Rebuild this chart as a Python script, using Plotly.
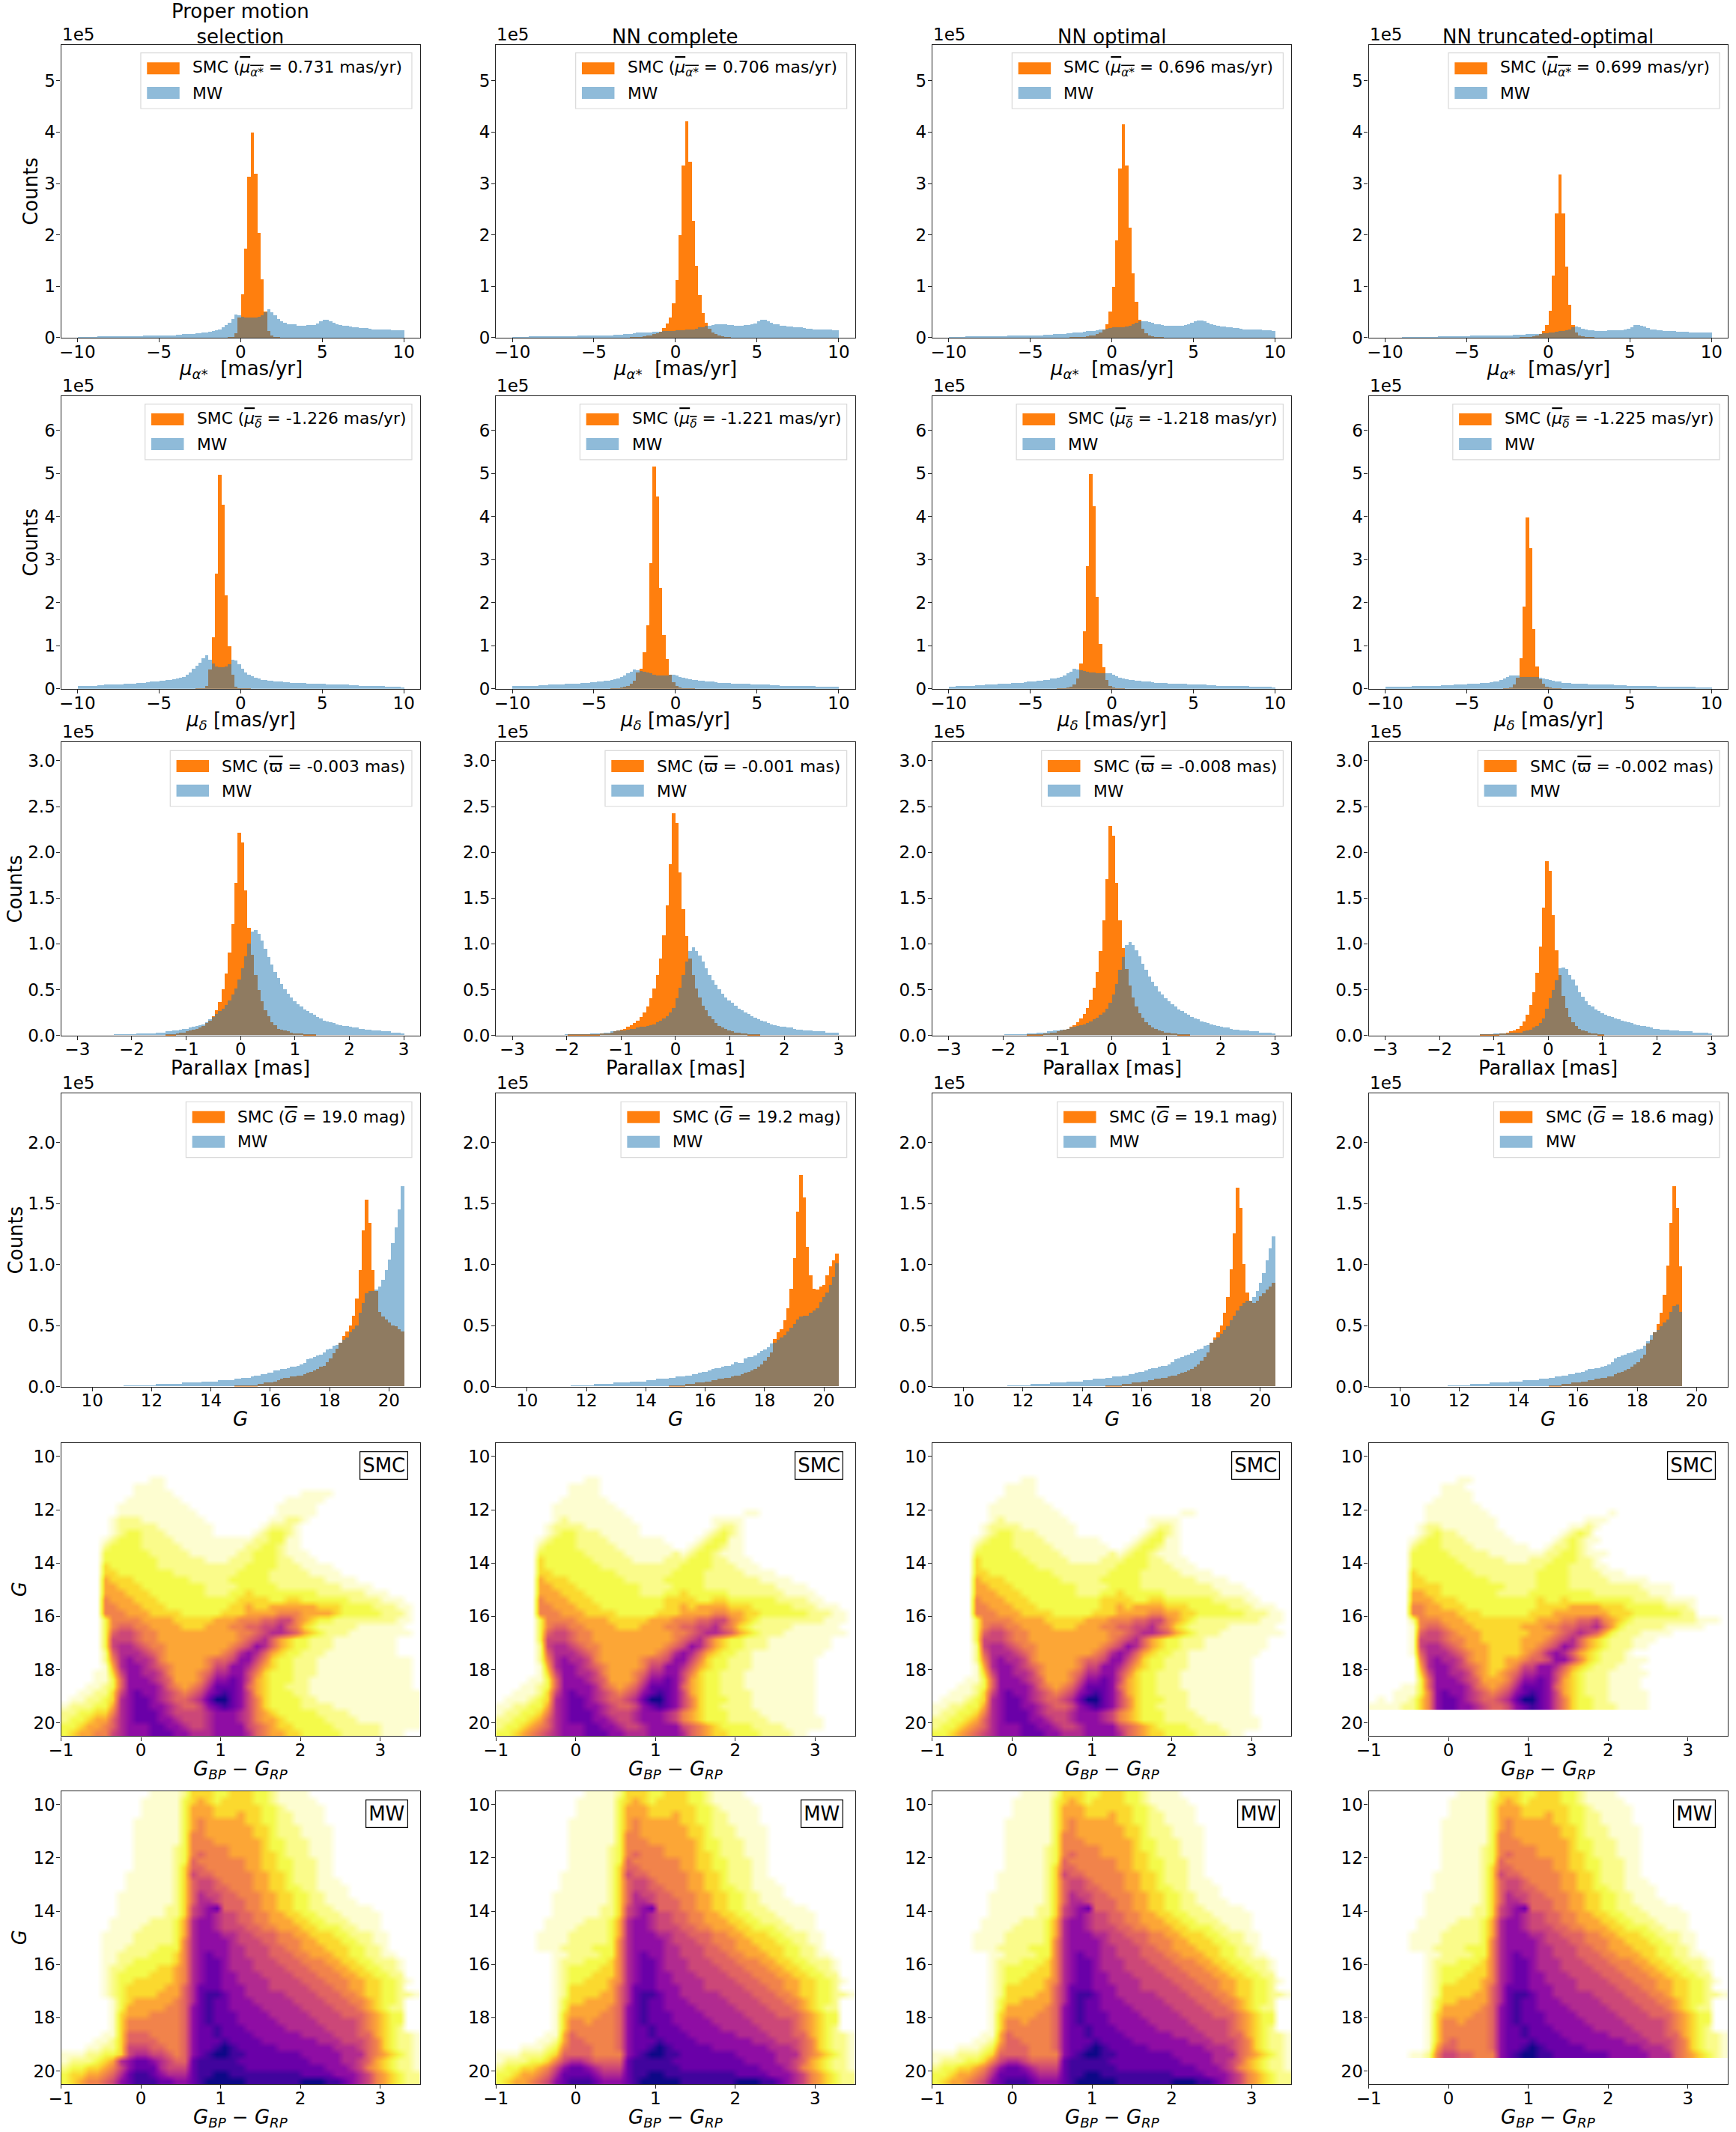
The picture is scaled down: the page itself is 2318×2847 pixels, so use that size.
import numpy as np
import plotly.graph_objects as go

# histogram counts in units of 1000, 100 bins per panel
RA_MW_PM = [2,2,2,2,2,2,3,3,3,3, 3,3,3,3,3,3,3,3,3,3, 4,4,4,4,4,4,5,5,5,5, 6,6,7,7,8,8,9,9,10,10,
            12,13,15,16,20,25,30,37,45,44, 41,40,39,39,40,41,44,50,55,50, 44,37,32,30,27,26,26,24,23,23,
            25,25,25,28,32,35,35,33,30,26, 25,23,23,22,21,20,19,19,19,18, 17,17,17,16,16,16,15,15,15,15]
RA_SMC_PM = [0]*40 + [0,0,0,0,0,0,1,2,9,40, 85,174,314,400,320,204,114,52,14,4, 2,1] + [0]*38
RA_MW_NN = [2,2,2,2,2,3,3,3,3,3, 3,3,3,3,3,3,3,3,3,3, 4,4,4,4,4,4,4,5,5,5, 5,6,6,6,7,7,8,9,10,10,
            11,11,11,12,12,12,13,13,14,14, 15,15,15,16,16,17,18,20,21,23, 23,25,27,27,27,26,25,25,24,24,
            24,25,25,26,28,33,35,35,33,30, 27,26,24,24,22,22,21,20,20,19, 18,18,17,17,17,16,16,16,15,15]
RA_SMC_NN = [0]*30 + [0,0,0,0,0,0,1,1,2,2, 3,4,5,7,9,12,19,28,40,67, 112,200,335,421,343,228,140,83,49,29,
             18,11,7,4,3,2,1] + [0]*33
RA_MW_OP = [2,2,2,2,2,3,3,3,3,3, 3,3,3,3,3,3,3,3,4,4, 4,4,4,4,5,5,5,5,5,6, 6,6,7,7,8,8,9,9,10,11,
            11,12,13,13,14,15,16,17,18,19, 20,20,20,21,22,24,26,29,32,33, 33,31,29,27,26,25,24,24,23,23,
            24,24,25,26,29,32,34,34,32,29, 26,25,23,22,22,21,20,19,19,18, 17,17,17,16,16,16,15,15,15,14]
RA_SMC_OP = [0]*30 + [0,0,0,0,0,0,0,1,1,1, 2,2,3,4,5,7,10,16,26,52, 100,190,330,415,335,215,125,70,35,18,
             9,5,3,2,1,1] + [0]*34
RA_MW_TR = [1,1,1,1,1,2,2,2,2,2, 2,2,2,2,2,2,3,3,3,3, 3,3,3,3,3,3,4,4,4,4, 4,4,4,4,5,5,5,5,5,6,
            6,6,6,7,7,8,8,8,9,9, 10,11,12,13,14,15,17,20,22,20, 18,16,15,15,14,14,14,14,15,15,
            15,15,15,16,18,21,25,25,24,22, 19,17,16,15,15,14,14,13,13,12, 12,12,12,11,11,11,11,11,11,11]
RA_SMC_TR = [0]*40 + [0,1,1,1,2,3,5,8,13,25, 53,121,242,318,242,138,65,25,10,5, 3,2,1,1] + [0]*36

DEC_MW_PM = [7,7,7,7,8,8,9,9,10,10, 10,11,11,11,12,12,13,13,14,14, 15,16,17,18,18,19,20,21,22,23,
             24,26,28,33,38,47,55,62,71,78, 69,60,53,51,51,52,58,68,66,57, 47,39,33,30,27,24,22,21,20,19,
             18,18,17,16,16,15,15,14,14,14, 13,13,13,13,12,12,11,11,11,11, 10,10,10,9,9,9,8,8,8,8, 7,7,7,7,6,6,6,6,6,3]
DEC_SMC_PM = [0]*30 + [0,0,0,0,0,0,1,1,2,8, 46,120,268,497,428,217,100,33,5,2, 2,1,1] + [0]*47
DEC_MW_NN = [7,7,7,7,8,8,8,8,9,9, 9,10,10,10,11,11,12,12,13,13, 13,14,14,15,16,16,17,18,19,20,
             21,23,25,28,31,36,41,45,44,42, 40,38,36,33,32,31,31,32,33,33, 31,28,26,25,23,22,21,20,19,18,
             17,17,16,15,15,14,14,13,13,13, 12,12,12,11,11,11,10,10,10,9, 9,9,8,8,8,8,7,7,7,7, 7,7,7,6,6,6,6,6,6,5]
DEC_SMC_NN = [0]*30 + [1,1,2,3,5,8,12,20,38,48, 85,148,293,517,447,235,125,70,33,16, 8,4,2,1,1,1] + [0]*44
DEC_MW_OP = [6,6,7,7,7,8,8,8,9,9, 9,10,10,11,11,12,12,13,13,14, 14,15,15,16,17,18,18,19,20,21,
             22,24,25,27,29,32,36,41,47,46, 44,42,40,39,38,37,37,37,37,36, 34,30,27,25,23,22,21,20,19,18,
             17,17,16,15,15,14,14,13,13,13, 12,12,12,11,11,10,10,10,10,9, 9,9,8,8,8,8,7,7,7,7, 7,7,6,6,6,6,6,6,6,4]
DEC_SMC_OP = [0]*30 + [0,0,0,1,1,2,4,6,10,24, 60,135,285,500,425,215,105,50,22,8, 4,2,1,1] + [0]*46
DEC_MW_TR = [5,5,5,5,5,6,6,6,7,7, 7,7,7,8,8,8,8,9,9,9, 9,10,10,11,11,12,12,13,13,14,
             14,15,16,17,18,21,24,28,31,32, 31,29,28,29,29,28,28,27,25,23, 21,20,18,17,15,14,14,13,13,12,
             12,12,11,11,11,10,10,10,10,10, 9,9,9,9,8,8,8,8,8,7, 7,7,7,6,6,6,6,6,6,5, 5,5,5,5,5,4,4,4,4,4]
DEC_SMC_TR = [0]*30 + [0,0,0,0,0,0,1,2,3,10, 26,72,192,398,327,139,53,23,12,6, 3,2,1,1] + [0]*46

PLX_MW_PM = [0]*10 + [0,1,1,1,1,1,1,1,2,2, 2,2,2,2,3,3,3,4,4,5, 5,6,7,7,8,9,10,11,12,14,
             17,20,23,26,29,33,38,44,51,61, 73,86,100,113,115,111,103,94,85,77, 69,62,56,50,45,41,37,34,31,28,
             26,24,22,20,18,16,15,14,13,12, 11,10,10,9,8,8,7,7,6,6, 5,5,5,4,4,4,3,3,3,2]
PLX_SMC_PM = [0]*20 + [0,0,0,0,0,0,0,1,1,1, 2,3,3,4,5,6,7,8,10,13, 16,21,27,36,50,67,90,121,166,221,
              210,158,117,88,66,49,37,27,21,14, 11,7,6,5,4,3,2,2,2,1, 1,1,1] + [0]*27
PLX_MW_NN = [0]*10 + [0,0,0,0,0,0,1,1,1,1, 1,1,1,1,2,2,2,2,3,3, 4,4,5,5,5,6,7,7,8,9,
             9,10,11,12,14,16,18,21,25,30, 40,52,66,80,92,96,92,87,80,73, 66,60,55,50,45,41,38,35,32,29,
             27,25,23,21,19,17,16,15,13,12, 11,10,9,9,8,8,7,6,6,5, 5,5,4,4,4,4,3,3,3,3]
PLX_SMC_NN = [0]*10 + [0,0,0,0,0,0,0,1,1,1, 1,1,1,1,1,1,1,2,2,2, 3,4,5,6,7,9,11,13,16,20,
              25,31,40,51,66,84,109,142,187,242, 232,178,138,108,84,66,51,41,32,27, 21,17,13,10,8,7,5,4,3,3,
              2,2,1,1,1,1] + [0]*24
PLX_MW_OP = [0]*10 + [0,0,0,0,0,0,0,1,1,1, 1,1,1,1,2,2,2,3,3,3, 4,4,5,5,6,6,7,8,9,10,
             11,12,13,15,17,19,22,25,29,35, 44,56,71,85,98,102,98,93,86,78, 71,64,58,53,48,44,40,37,34,31,
             28,26,24,22,20,18,17,15,14,13, 12,11,10,9,8,8,7,6,6,5, 5,5,4,4,4,3,3,3,3,2]
PLX_SMC_OP = [0]*20 + [0,0,0,0,1,1,1,1,1,2, 2,3,3,4,5,6,7,9,11,14, 18,23,30,39,52,69,92,125,170,228,
              218,166,125,95,72,54,41,31,24,19, 14,11,8,7,5,4,3,3,2,2, 1,1,1,1] + [0]*26
PLX_MW_TR = [0]*20 + [0,0,0,0,0,0,0,0,0,1, 1,1,1,2,2,2,2,2,3,3,
             3,3,4,5,6,8,10,13,18,29, 40,49,60,73,74,72,66,61,54,47, 42,37,33,31,28,26,24,22,21,20,
             18,17,16,15,14,13,12,11,10,10, 9,8,7,7,6,6,6,5,5,5, 4,4,4,4,3,3,3,3,3,2]
PLX_SMC_TR = [0]*20 + [0,0,0,0,0,0,0,0,0,1, 1,1,1,1,1,2,2,3,4,5,
              7,10,15,22,33,47,68,97,139,190, 179,131,93,66,43,30,20,14,10,7, 5,4,3,2,2,1,1] + [0]*33

G_MW_PM = [0]*10 + [0,0,0,0,1,1,1,1,1,1, 1,1,1,1,2,2,2,2,2,2, 2,2,3,3,3,3,3,3,4,4, 4,4,4,5,5,5,5,5,6,6,
           7,7,7,8,9,9,10,10,11,11, 13,13,14,14,15,16,16,17,18,19, 22,23,24,25,26,28,30,31,33,34,
           36,38,40,44,47,50,60,68,76,78, 78,79,82,87,95,104,117,130,145,164]
G_SMC_PM = [0]*40 + [0,0,0,0,0,0,0,0,1,1, 1,1,1,1,1,2,2,3,3,3, 4,5,6,7,7,8,8,9,9,10, 11,12,13,14,16,17,20,23,27,31,
            36,41,45,50,58,72,95,128,153,134, 95,78,61,57,55,52,50,49,47,45]
G_MW_NN = [0]*10 + [0,0,0,0,0,0,0,0,1,1, 1,1,1,1,1,2,2,2,2,2, 2,3,3,3,3,3,4,4,4,4, 4,5,5,5,6,6,6,6,7,7,
           8,8,8,9,9,10,10,11,12,12, 13,14,15,15,16,17,17,18,20,19, 19,23,24,24,25,27,29,30,32,35,
           36,38,40,42,45,48,51,55,57,58, 58,60,62,64,69,73,77,83,90,101]
G_SMC_NN = [0]*40 + [0,0,0,0,0,0,0,0,1,1, 1,1,1,2,2,2,3,3,3,4, 4,5,5,6,6,7,7,8,9,9, 10,11,12,13,14,16,18,21,24,28,
            39,44,47,54,64,80,105,143,173,155, 114,91,80,79,82,83,91,98,103,109]
G_MW_OP = [0]*10 + [0,0,0,0,0,0,0,0,1,1, 1,1,1,1,1,2,2,2,2,2, 2,3,3,3,3,3,4,4,4,4, 4,5,5,5,6,6,6,6,7,7,
           8,8,8,9,9,10,10,11,12,12, 13,14,15,15,16,17,17,18,20,22, 23,24,25,26,27,29,30,31,33,34,
           36,38,40,43,46,49,54,58,62,66, 68,70,70,73,78,85,93,103,113,123]
G_SMC_OP = [0]*40 + [0,0,0,0,0,0,0,0,1,1, 1,1,1,2,2,2,3,3,3,4, 4,5,5,6,6,7,7,8,9,9, 10,11,12,13,14,16,18,21,24,28,
            36,40,44,50,60,73,96,125,163,146, 100,77,70,68,70,74,76,79,82,85]
G_MW_TR = [0]*10 + [0,0,0,0,0,0,0,0,0,1, 1,1,1,1,1,1,2,2,2,2, 2,2,3,3,3,3,3,3,4,4, 4,4,5,5,5,5,5,6,6,6,
           7,7,8,8,9,9,10,10,11,11, 12,13,14,14,15,15,16,17,18,20, 23,24,25,26,27,28,29,30,31,33,
           37,42,44,46,49,52,55,61,66,67, 61] + [0]*9
G_SMC_TR = [0]*50 + [1,1,1,1,2,2,2,3,3,3, 4,4,5,5,6,6,7,7,8,8, 10,11,12,13,14,16,18,20,23,26,
            35,38,44,51,60,75,99,134,164,146, 98] + [0]*9

# colour-magnitude density, one character per cell (0.1 in colour, 0.25 in G), 0=empty .. d=densest
SMC_PM = ["", "", "", "", "",
    "00000000000110",
    "000000000111100000000000000000000",
    "0000000001111100000000000000001111",
    "00000000111111100000000000001111100",
    "0000000111111111000000000001111100",
    "00000001111111111000000000011111",
    "0000001222111111110000000011221",
    "0000001222221111111000000122210",
    "00000012332221111110000012332100",
    "00000123332222111111111122331100",
    "00000233332222211111111223321100",
    "00000333333222221111112233321110000",
    "00000333333322222211122233322111000",
    "00000433333322222222222333322211110000",
    "00000443333333222222223333222221111000",
    "00000544433333332222233333222222211110000",
    "00000554443333333322223333322222222111100000",
    "00000555444333333322233433333333222222111000",
    "00000655544433333333334444334433333322221110",
    "00000665554443333333344544555555444333322211",
    "00000666555444433333444555566655554333332221",
    "00000366665555444445556667788654332222222211",
    "0000036776655554445556677889764322222111111",
    "00000378876655555555556678998754322211111111",
    "000003888766555555555567897543322211111111",
    "000003899876655555555678a97543322211111111",
    "00000279998765555555679a975433222111111111",
    "00000269a9986555556778aa86433222111111111111",
    "00000159aa98765555688aa975433222111111111111",
    "00001148aa99865556799aa864333222111111111111",
    "00001137aaa98755568aaba854333221111111111111",
    "00011237aaaa9765679bbba754332221111111111111",
    "00112248abaa987678abcba8543332211111111111111",
    "01122349abba987789bddba8643333221111111111111",
    "12223359abbaa98778abcba86433332222111111111111",
    "22334469abbba988889aaa98654333332222111111111",
    "23345579abbbaa98889aaa986554333332222111111111",
    "33455679aaabbaa9889aaaa87654433333222222111111",
    "34556689aaabbbaa999aaaa97655443333322222111"]
SMC_NN = ["", "", "", "", "",
    "00000000000110",
    "00000000011110",
    "000000000111100",
    "0000000011111100",
    "00000001111111100",
    "000000011111111100000000000000011",
    "0000000121111111100000000001111",
    "000000122221111111000000000122100",
    "0000001233222111110000000012321",
    "00000123332222111111100001233110",
    "0000023333222221111111001233211",
    "00000333333222221111112123321110",
    "00000433333322222111122233322111",
    "00000433333332222222222333322211100",
    "00000443333333322222223333222221111",
    "000005444333333322222333332222222111100",
    "0000055444333333332222333322222222211110",
    "0000055544433333332223343333322222221111",
    "00000655544433333333344443344333333222211",
    "0000066555444333333334454555544433333222111",
    "00000666555444433333444555566554433333322211",
    "00000366665555444445556667788654322222222111",
    "0000036776655554445556677889764322222111111",
    "00000378876655555555556678998754322211111111",
    "000003888766555555555567897543322211111111",
    "000002899876655555555678a97543322211111111",
    "00000279998765555555679a97543322111111111",
    "00000269a9986555556778aa8643322211111111",
    "00000159aa98765555688aa97543322211111111",
    "00000148aa99865556799aa86433222111111111",
    "00001137aaa98755568aaba85433222111111111",
    "00011237aaaa9765679bbba75433222111111111",
    "00111248abaa987678abcba85433222211111111",
    "01112349abba987789bddba86433322211111111",
    "11223359abbaa98778abcba86433222211111111",
    "12233469abbba98889aaa9865433322221111111",
    "22334579abbbaa9889aaa98654333222221111111",
    "23345679aaabbaa9889aaaa876543333222211111",
    "33456789aaabbbaa999aaaa9765443333222211"]
SMC_TR = ["", "", "", "", "",
    "000000000001100",
    "00000000011100",
    "00000000011110",
    "0000000011111",
    "000000011111110",
    "0000000111111110000000000000001",
    "0000000111111111000000000001110",
    "000000122111111100000000011210",
    "0000001232211111100000001232",
    "00000123322211111100000123211",
    "0000023332222111111100122321",
    "000003333322222111111122332111",
    "00000333333222222111222333221",
    "0000033333332222222222333222110",
    "00000433333332222222233332222111",
    "00000443333333322222233332222211111",
    "00000444433333333222233332222222221111",
    "000005544333333322223333333322222221110",
    "00000555444333333333343343333333322221111",
    "00000665544433333333344445555444333332221",
    "00000665555444333333444555555544433333322",
    "00000266655544444444455566778654322222222111",
    "000001677655544444455566778897532222211111",
    "00000178876555444444555678987532221111",
    "000001888766554444455567897543222111",
    "000001899876555444455678a9754322211",
    "00000179998765544445679a975432221",
    "00000069a99865544556778aa8643222111",
    "00000059aa98765445688aa975432221110",
    "00000048aa99865456799aa864322211111",
    "00000037aaa98755568aaba854322211110",
    "00001137aaaa9765679bbba754322211110",
    "00011136abaa987678abcba854322211111",
    "01011246abba987789bddba864332211111",
    "11112246abbaa98778abcba864332221111"]
# first 16 cells and remaining cells of each MW row
MW_PM_LEFT = [
    "0000000000011112", "0000000000111113", "0000000000111113", "0000000000111113", "0000000001111113",
    "0000000001111113", "0000000001111113", "0000000001111113", "0000000001111123", "0000000001111123",
    "0000000001111123", "0000000001111124", "0000000011111124", "0000000011111124", "0000000011111124",
    "0000000111111124", "0000000111111124", "0000000111111224", "0000000111111224", "0000001111122235",
    "0000001111222235", "0000011112222235", "0000011112222236", "0000011122223336", "0000011222233346",
    "0000011223333346", "0000012233334456", "0000012333344456", "0000012334444456", "0000012344444557",
    "0000012344445557", "0000001345555567", "0000001355555667", "0000001455566667", "0000001466666667",
    "0000001466666667", "0000011477766667", "0000112477776667", "0001122488877667", "1112233489988767",
    "12223459abba9877", "23344568abbb9888", "34455679bccba999", "3456678abcccbbaa"]
MW_RIGHT = [
    "444334443321111",
    "4543444433211111",
    "555444444332111110",
    "555444544332211110",
    "565555544332211110",
    "565555554432221111",
    "665555554432221111",
    "666555555433222111",
    "666665555433222111",
    "676665555443222111",
    "766666655443322211",
    "776666655443322211",
    "877666665544322211",
    "7887666655443222111",
    "78877666554433221111",
    "79887766655443322111",
    "799877766554433221111",
    "89ab7776655443322211111",
    "89a9887766554433222111110",
    "9aa988776655544332221111",
    "9aa9888776655544333221110",
    "9aaa998877766554443322211",
    "9aaaa98887766655444332211",
    "9aaaa99888776655544433221",
    "9abaa998887776655544332211",
    "9abba9998887776665544332221",
    "9abba999888877766655443322 1",
    "9abbaa999888877766655443322",
    "9abbaa9999888877766655443321",
    "9bbbaaa99988888777665544332",
    "9bccbaa9999988887776654433221",
    "9bcbbaaa9999988887776654332",
    "abcbbaaaa999998888777654322",
    "abcbbbaaaa99999888877765433",
    "abcbbbaaaaa9999988888765433",
    "abbcbbbaaaaa999998888765432",
    "abbcbbbbaaaaaa999988877543221",
    "abbbcbbbbaaaaaaa9998887643221",
    "abbcdcbbbbbaaaaaaa99987643221",
    "abcddccbbbbbbbaaaaa9997654321",
    "bcccccbbbbbbbbbaaaa9987543221",
    "bccccccbbbbbbbbbbaaa986543221",
    "bccddcccccccccbbbbaaa98654322",
    "bcdddddcccccccdddccba98654322"]
# lower left part of the MW panels differs between the selections, the rest of each row is shared
MW_NN_LEFT = ["0000000112222336", "0000000122233346", "0000000123333446", "0000000123334446",
              "0000000123344456", "0000000124444457", "0000000124444557", "0000000134455557",
              "0000000135555567", "0000000145555667", "0000000146656667", "0000000146666667",
              "0000001157666667", "0000011257766667", "0001112367776667", "1112223477776666",
              "1222334689987777", "23344568abba9888", "33455679bbbba999", "3455678abcccbaaa"]
MW_TR_LEFT = ["0000000146666667", "0000000146766667", "0000000157766667", "0000011268877666"]

COLUMN_TITLES = ["Proper motion<br>selection", "NN complete", "NN optimal", "NN truncated-optimal"]
RA_MEANS = ["0.731", "0.706", "0.696", "0.699"]
DEC_MEANS = ["-1.226", "-1.221", "-1.218", "-1.225"]
PLX_MEANS = ["-0.003", "-0.001", "-0.008", "-0.002"]
G_MEANS = ["19.0", "19.2", "19.1", "18.6"]

LEVELS = "0123456789abcd"
LEVEL_COLORS = ["#ffffff", "#fdfdd0", "#fafb8a", "#f4fa4a", "#fbd92e", "#fca636", "#f1834b",
                "#e16462", "#cc4778", "#b12a90", "#8f0da4", "#6a00a8", "#41049d", "#0d0887"]
ORANGE = "#ff7f0e"
BLUE = "rgba(31,119,180,0.5)"
FONT = "DejaVu Sans"
TICK = 23
LEG = 21.8
LABEL = 26

W, H = 2318, 2847
LEFTS = [65, 650, 1237, 1824]
TOPS = [60, 531, 996, 1467, 1936, 2403]
AW, AH = 483, 393

RA_TXT = "<i>μ</i><sub><i>α*</i></sub>"
DEC_TXT = "<i>μ</i><sub><i>δ</i></sub>"
over = lambda s: f'<span style="text-decoration:overline">{s}</span>'

hist_rows = [
    dict(smc=[RA_SMC_PM, RA_SMC_NN, RA_SMC_OP, RA_SMC_TR], mw=[RA_MW_PM, RA_MW_NN, RA_MW_OP, RA_MW_TR],
         lo=-10, hi=10, xr=[-11, 11], xt=[-10, -5, 0, 5, 10], top=5.7, yt=[0, 1, 2, 3, 4, 5],
         yl=["0", "1", "2", "3", "4", "5"], title=RA_TXT + "  [mas/yr]", sym=RA_TXT, means=RA_MEANS,
         unit="mas/yr", box=.222, ylab=-40),
    dict(smc=[DEC_SMC_PM, DEC_SMC_NN, DEC_SMC_OP, DEC_SMC_TR], mw=[DEC_MW_PM, DEC_MW_NN, DEC_MW_OP, DEC_MW_TR],
         lo=-10, hi=10, xr=[-11, 11], xt=[-10, -5, 0, 5, 10], top=6.8, yt=[0, 1, 2, 3, 4, 5, 6],
         yl=["0", "1", "2", "3", "4", "5", "6"], title=DEC_TXT + " [mas/yr]", sym=DEC_TXT, means=DEC_MEANS,
         unit="mas/yr", box=.234, ylab=-40),
    dict(smc=[PLX_SMC_PM, PLX_SMC_NN, PLX_SMC_OP, PLX_SMC_TR], mw=[PLX_MW_PM, PLX_MW_NN, PLX_MW_OP, PLX_MW_TR],
         lo=-3, hi=3, xr=[-3.3, 3.3], xt=[-3, -2, -1, 0, 1, 2, 3], top=3.2, yt=[0, .5, 1, 1.5, 2, 2.5, 3],
         yl=["0.0", "0.5", "1.0", "1.5", "2.0", "2.5", "3.0"], title="Parallax [mas]", sym="ϖ", means=PLX_MEANS,
         unit="mas", box=.304, ylab=-61),
    dict(smc=[G_SMC_PM, G_SMC_NN, G_SMC_OP, G_SMC_TR], mw=[G_MW_PM, G_MW_NN, G_MW_OP, G_MW_TR],
         lo=9.5, hi=20.5, xr=[8.95, 21.05], xt=[10, 12, 14, 16, 18, 20], top=2.4, yt=[0, .5, 1, 1.5, 2],
         yl=["0.0", "0.5", "1.0", "1.5", "2.0"], title="<i>G</i>", sym="<i>G</i>", means=G_MEANS,
         unit="mag", box=.348, ylab=-61),
]


def levels(rows):
    return [[LEVELS.index(c) for c in r.replace(" ", "").ljust(45, "0")[:45]] for r in rows]


MW_PM = [a + b for a, b in zip(MW_PM_LEFT, MW_RIGHT)]
MW_NN = MW_PM[:24] + [a + b for a, b in zip(MW_NN_LEFT, MW_RIGHT[24:])]
MW_TR = MW_NN[:36] + [a + b for a, b in zip(MW_TR_LEFT, MW_RIGHT[36:])]
cmd_rows = [("SMC", [SMC_PM, SMC_NN, SMC_NN, SMC_TR]), ("MW", [MW_PM, MW_NN, MW_NN, MW_TR])]

fig = go.Figure()
layout = dict(width=W, height=H, margin=dict(l=0, r=0, t=0, b=0), paper_bgcolor="white", plot_bgcolor="white",
              barmode="overlay", bargap=0, showlegend=False, font=dict(family=FONT, size=TICK, color="black"))
shapes, notes = [], []


def add_axes(r, c, xkw, ykw):
    n = r * 4 + c + 1
    sx = "" if n == 1 else str(n)
    base = dict(showgrid=False, zeroline=False, showline=True, mirror=True, linecolor="#222", linewidth=1.3,
                ticks="outside", ticklen=5, tickwidth=1.3, tickcolor="#222", tickfont=dict(size=TICK))
    layout["xaxis" + sx] = dict(base, domain=[LEFTS[c] / W, (LEFTS[c] + AW) / W], anchor="y" + sx,
                                ticklabelstandoff=-7, **xkw)
    layout["yaxis" + sx] = dict(base, domain=[1 - (TOPS[r] + AH) / H, 1 - TOPS[r] / H], anchor="x" + sx,
                                ticklabelstandoff=-3, **ykw)
    return "x" + sx, "y" + sx


def note(xa, ya, x, y, text, **kw):
    notes.append(dict(xref=xa + " domain", yref=ya + " domain", x=x, y=y, text=text, showarrow=False,
                      font=dict(family=FONT, size=kw.pop("size", TICK), color="black"), **kw))


def box(xa, ya, x0, x1, y0, y1, fill, line=None):
    shapes.append(dict(type="rect", xref=xa + " domain", yref=ya + " domain", x0=x0, x1=x1, y0=y0, y1=y1,
                       fillcolor=fill, line=dict(color=line or fill, width=1.2 if line else 0), layer="above"))


for r, row in enumerate(hist_rows):
    edges = np.linspace(row["lo"], row["hi"], 101)
    centers = (edges[:-1] + edges[1:]) / 2
    width = edges[1] - edges[0]
    for c in range(4):
        xa, ya = add_axes(r, c,
                          dict(range=row["xr"], tickvals=row["xt"]),
                          dict(range=[0, row["top"] * 1e5], tickvals=[v * 1e5 for v in row["yt"]], ticktext=row["yl"]))
        fig.add_trace(go.Bar(x=centers, y=np.array(row["smc"][c]) * 1000, width=width, xaxis=xa, yaxis=ya,
                             marker=dict(color=ORANGE, line=dict(width=0)), name="SMC"))
        fig.add_trace(go.Bar(x=centers, y=np.array(row["mw"][c]) * 1000, width=width, xaxis=xa, yaxis=ya,
                             marker=dict(color=BLUE, line=dict(width=0)), name="MW"))
        # legend, drawn by hand so the swatches come out wide like the original
        left = row["box"]
        box(xa, ya, left, .977, .782, .972, "rgba(255,255,255,0.8)", "#d9d9d9")
        box(xa, ya, left + .0173, left + .108, .899, .94, ORANGE)
        box(xa, ya, left + .0173, left + .108, .815, .856, BLUE)
        note(xa, ya, left + .14, .919,
             f"SMC ({over(row['sym'])} = {row['means'][c]} {row['unit']})", xanchor="left", yanchor="middle", size=LEG)
        note(xa, ya, left + .14, .835, "MW", xanchor="left", yanchor="middle", size=LEG)
        note(xa, ya, 0, 1, "1e5", xanchor="left", yanchor="bottom", borderpad=0)
        note(xa, ya, .5, 0, row["title"], xanchor="center", yanchor="middle", size=LABEL, yshift=-43)
        if c == 0:
            note(xa, ya, 0, .5, "Counts", xanchor="center", yanchor="middle", size=LABEL, textangle=-90,
                 xshift=row["ylab"])
        if r == 0:
            note(xa, ya, .5, 1, COLUMN_TITLES[c], xanchor="center", yanchor="bottom", size=LABEL, borderpad=0,
                 yshift=-5)

for k, (tag, grids) in enumerate(cmd_rows):
    r = k + 4
    for c in range(4):
        z = levels(grids[c])
        color = np.arange(45) * 0.1 - 0.95
        mag = np.arange(len(z)) * 0.25 + 9.625
        xa, ya = add_axes(r, c,
                          dict(range=[-1, 3.5], tickvals=[-1, 0, 1, 2, 3]),
                          dict(range=[20.5, 9.5], tickvals=[10, 12, 14, 16, 18, 20]))
        fig.add_trace(go.Heatmap(x=color, y=mag, z=z, xaxis=xa, yaxis=ya, zmin=0, zmax=13, zsmooth="best",
                                 showscale=False,
                                 colorscale=[[i / 13, col] for i, col in enumerate(LEVEL_COLORS)]))
        note(xa, ya, .967, .972, tag, xanchor="right", yanchor="top", size=LABEL, bgcolor="white",
             bordercolor="black", borderwidth=1.2, borderpad=3)
        note(xa, ya, .5, 0, "<i>G</i><sub><i>BP</i></sub> − <i>G</i><sub><i>RP</i></sub>", xanchor="center",
             yanchor="middle", size=LABEL, yshift=-45)
        if c == 0:
            note(xa, ya, 0, .5, "<i>G</i>", xanchor="center", yanchor="middle", size=LABEL, textangle=-90, xshift=-56)

layout["shapes"] = shapes
layout["annotations"] = notes
fig.update_layout(**layout)
fig.write_html("out.html", config={"displayModeBar": False}, post_script="document.body.style.margin='0';")
